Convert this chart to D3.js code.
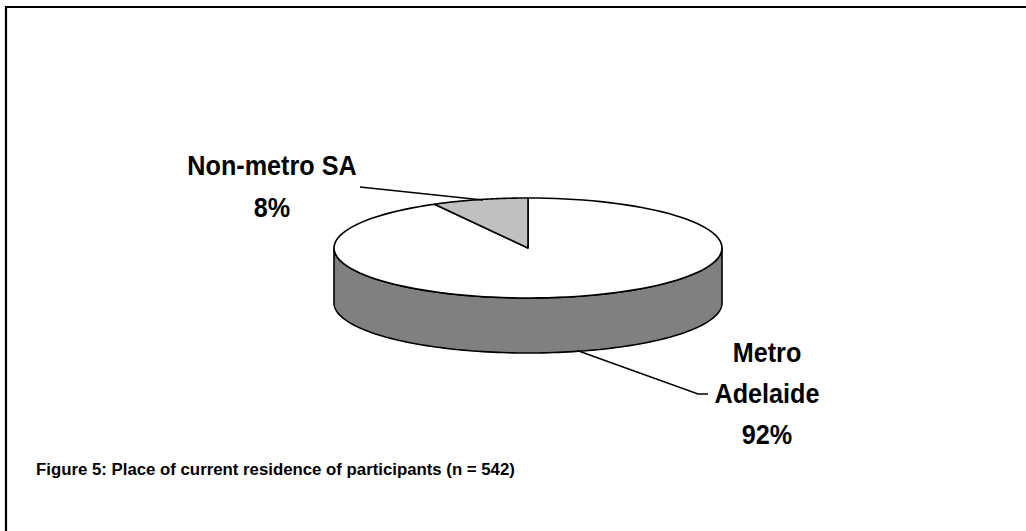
<!DOCTYPE html>
<html>
<head>
<meta charset="utf-8">
<script src="https://cdn.jsdelivr.net/npm/d3@7"></script>
<style>
  html, body { margin: 0; padding: 0; background: #fff; }
  svg { display: block; }
  text { font-family: "Liberation Sans", Arial, sans-serif; font-weight: bold; fill: #000; }
</style>
</head>
<body>
<svg id="chart" width="1026" height="531"></svg>
<script>
// ---- data ----
const categories = ["Metro Adelaide", "Non-metro SA"];
const values = [92, 8];
const labelLines = [["Metro", "Adelaide", "92%"], ["Non-metro SA", "8%"]];
const sliceColors = ["#ffffff", "#c0c0c0"];
const sideColors = ["#808080", "#606060"];
const caption = "Figure 5: Place of current residence of participants (n = 542)";

// ---- layout ----
const W = 1026, H = 531;
const cx = 528, cy = 248, rx = 194, ry = 50, depth = 55;
const svg = d3.select("#chart");

// frame (top + left lines only visible)
svg.append("path")
  .attr("d", `M6,${H + 5} L6,7 L${W + 5},7`)
  .attr("fill", "none").attr("stroke", "#000").attr("stroke-width", 2.2);

const pie = d3.pie().sort(null).value(d => d)
  .startAngle(0).endAngle(2 * Math.PI);
const arcs = pie(values);

function pt(a, dy = 0) {
  return [cx + rx * Math.sin(a), cy - ry * Math.cos(a) + dy];
}
function arcPoints(a0, a1, dy = 0, n = 120) {
  const pts = [];
  for (let i = 0; i <= n; i++) pts.push(pt(a0 + (a1 - a0) * i / n, dy));
  return pts;
}

// side wall: visible front half (angles PI/2 .. 3PI/2)
arcs.forEach((d, i) => {
  const a0 = Math.max(d.startAngle, Math.PI / 2);
  const a1 = Math.min(d.endAngle, 3 * Math.PI / 2);
  if (a1 <= a0) return;
  const top = arcPoints(a0, a1, 0);
  const bot = arcPoints(a1, a0, depth);
  const p = d3.path();
  p.moveTo(...top[0]);
  top.slice(1).forEach(q => p.lineTo(...q));
  bot.forEach(q => p.lineTo(...q));
  p.closePath();
  svg.append("path").attr("d", p.toString())
    .attr("fill", sideColors[i])
    .attr("stroke", "#000").attr("stroke-width", 1.6).attr("stroke-linejoin", "round");
});

// top faces
arcs.forEach((d, i) => {
  const pts = arcPoints(d.startAngle, d.endAngle, 0);
  const p = d3.path();
  p.moveTo(cx, cy);
  pts.forEach(q => p.lineTo(...q));
  p.closePath();
  svg.append("path").attr("d", p.toString())
    .attr("fill", sliceColors[i])
    .attr("stroke", "#000").attr("stroke-width", 1.6).attr("stroke-linejoin", "round");
});

// labels + leader lines
const fs = 28, sx = 0.9;
function label(lines, x, y0, step) {
  const g = svg.append("g").attr("transform", `translate(${x},0) scale(${sx},1)`);
  const t = g.append("text").attr("text-anchor", "middle").attr("font-size", fs);
  lines.forEach((s, k) => {
    t.append("tspan").attr("x", 0).attr("y", y0 + k * step).text(s);
  });
}
// Metro Adelaide
(function () {
  const d = arcs[0];
  const mid = (d.startAngle + d.endAngle) / 2;
  const a = pt(mid, depth);
  svg.append("polyline")
    .attr("points", [[a[0] + 1, a[1] - 1], [698, 394], [708, 394]].map(q => q.join(",")).join(" "))
    .attr("fill", "none").attr("stroke", "#000").attr("stroke-width", 1.5);
  label(labelLines[0], 767, 362, 41);
})();
// Non-metro SA
(function () {
  const d = arcs[1];
  const mid = (d.startAngle + d.endAngle) / 2;
  const a = pt(mid, 0);
  svg.append("line")
    .attr("x1", 360).attr("y1", 187).attr("x2", a[0] + 3).attr("y2", a[1] + 0.5)
    .attr("stroke", "#000").attr("stroke-width", 1.5);
  label(labelLines[1], 272, 175, 42);
})();

svg.append("text").attr("x", 36).attr("y", 475).attr("font-size", 16.8).text(caption);
</script>
</body>
</html>
